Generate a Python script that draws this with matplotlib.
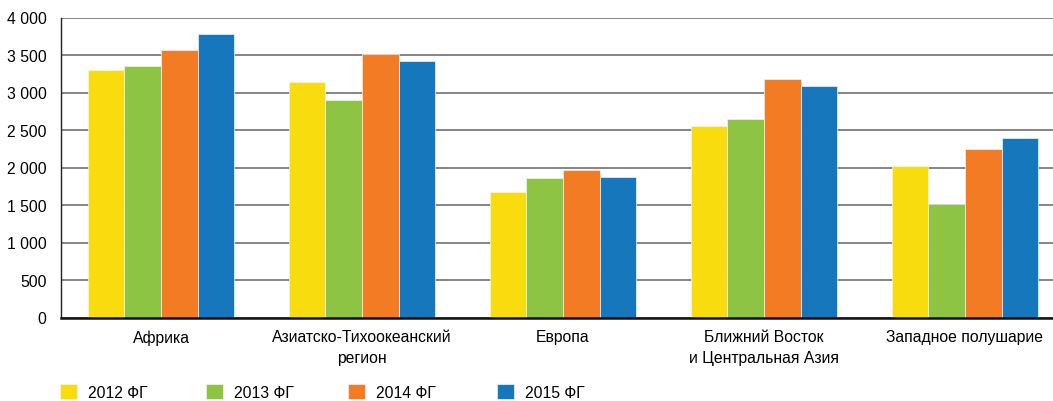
import matplotlib
matplotlib.use("Agg")
import matplotlib.pyplot as plt
import numpy as np
from matplotlib import font_manager

categories = ["Африка", "Азиатско-Тихоокеанский\nрегион", "Европа",
              "Ближний Восток\nи Центральная Азия", "Западное полушарие"]
series_names = ["2012 ФГ", "2013 ФГ", "2014 ФГ", "2015 ФГ"]
v2012 = [3300, 3140, 1680, 2560, 2020]
v2013 = [3350, 2900, 1860, 2650, 1520]
v2014 = [3570, 3510, 1970, 3180, 2250]
v2015 = [3780, 3420, 1880, 3090, 2400]
yticks = [0, 500, 1000, 1500, 2000, 2500, 3000, 3500, 4000]
ytick_labels = ["0", "500", "1 000", "1 500", "2 000", "2 500", "3 000", "3 500", "4 000"]
colors = ["#F9DC0E", "#8DC444", "#F27B23", "#1777BD"]

names = {f.name for f in font_manager.fontManager.ttflist}
fam = "Liberation Sans Narrow" if "Liberation Sans Narrow" in names else "Liberation Sans"
plt.rcParams["font.family"] = [fam, "DejaVu Sans"]
fs = 11.3

fig = plt.figure(figsize=(10.53, 4.02), dpi=100)
ax = fig.add_axes([60.5/1053, 1-318.5/402, 1005/1053, 300/402])

x = np.arange(len(categories))
w = 0.182
data = [v2012, v2013, v2014, v2015]
handles = []
for i, (vals, c) in enumerate(zip(data, colors)):
    b = ax.bar(x + (i - 1.5) * w, vals, width=w, color=c, edgecolor="#f4f4f4",
               linewidth=0.5, zorder=3, label=series_names[i])
    handles.append(b)

ax.set_xlim(-0.5, 4.5)
ax.set_ylim(0, 4000)
ax.set_yticks(yticks)
ax.set_yticklabels(ytick_labels, fontsize=fs)
ax.set_xticks(x)
ax.set_xticklabels(categories, fontsize=fs, linespacing=1.5, va="top")
ax.tick_params(axis="x", length=0, pad=8.5)
ax.tick_params(axis="y", length=0, pad=10)
ax.yaxis.grid(True, color="#707070", linewidth=1.2, zorder=0)
for s in ["top", "right"]:
    ax.spines[s].set_visible(False)
ax.spines["left"].set_color("#222222")
ax.spines["left"].set_linewidth(1.0)
ax.spines["bottom"].set_color("#111111")
ax.spines["bottom"].set_linewidth(1.8)
ax.spines["bottom"].set_zorder(4)

leg_x = [60, 206, 348, 497]
for i, h in enumerate(handles):
    lg = fig.legend(handles=[h], labels=[series_names[i]], loc="center left",
                    bbox_to_anchor=(leg_x[i]/1053, 1-393/402), frameon=False,
                    fontsize=fs, handlelength=1.08, handleheight=1.1,
                    handletextpad=0.7, borderpad=0, borderaxespad=0)

fig.savefig("out.png", dpi=100)
